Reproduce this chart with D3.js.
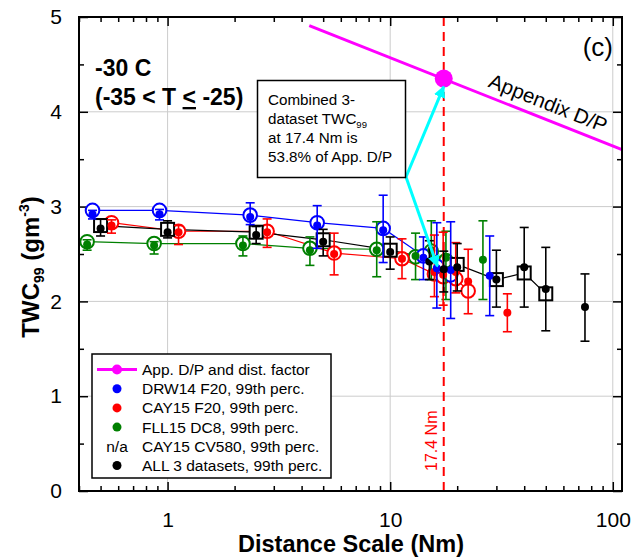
<!DOCTYPE html>
<html lang="en">
  <head>
    <meta charset="UTF-8">
    <title>TWC99 vs distance scale</title>
    <style>
      body { margin: 0; background: #fff; }
      svg { font-family: "Liberation Sans", Arial, sans-serif; }
    </style>
    <script src="https://d3js.org/d3.v7.min.js"></script>
  </head>
  <body>
    <script>
      // DRW14 F20 (blue)
      var drwDist = [0.46, 0.92, 2.35, 4.7, 9.3, 14.1, 16.2, 18.7, 28];
      var drwOpen = [2.96, 2.96, 2.91, 2.83, 2.77, 2.48, 2.37, 2.28, null];
      var drwDot  = [2.92, 2.92, 2.89, 2.80, 2.75, 2.46, 2.35, 2.33, 2.27];
      var drwLo   = [2.87, 2.86, 2.81, 2.56, 2.41, 2.23, 1.93, 1.82, 1.85];
      var drwHi   = [2.96, 2.97, 3.04, 3.01, 3.12, 2.68, 2.83, 2.84, 2.69];

      // CAY15 F20 (red)
      var cayDist = [0.56, 1.12, 2.8, 5.6, 11.3, 15.8, 17.3, 19.7, 22.4, 33.6];
      var cayOpen = [2.83, 2.74, 2.74, 2.51, 2.45, 2.29, 2.26, 2.24, 2.11, null];
      var cayDot  = [2.80, 2.73, 2.73, 2.50, 2.45, 2.31, 2.28, 2.31, 2.21, 1.88];
      var cayLo   = [2.72, 2.60, 2.57, 2.28, 2.24, 2.05, 1.96, 2.09, 1.87, 1.68];
      var cayHi   = [2.86, 2.80, 2.87, 2.72, 2.66, 2.70, 2.73, 2.62, 2.55, 2.08];

      // FLL15 DC8 (green)
      var fllDist = [0.435, 0.87, 2.18, 4.36, 8.7, 13.0, 15.3, 17.8, 26.1];
      var fllOpen = [2.63, 2.61, 2.61, 2.56, 2.55, 2.47, 2.53, 2.43, null];
      var fllDot  = [2.60, 2.59, 2.59, 2.54, 2.54, 2.48, 2.54, 2.46, 2.44];
      var fllLo   = [2.54, 2.50, 2.48, 2.38, 2.26, 2.23, 2.23, 2.02, 2.02];
      var fllHi   = [2.65, 2.63, 2.69, 2.68, 2.84, 2.72, 2.85, 2.74, 2.85];

      // ALL 3 datasets (black)
      var allDist = [0.5, 1, 2.5, 5, 10, 15, 17.4, 20, 30, 40, 50, 75];
      var allOpen = [2.80, 2.76, 2.73, 2.65, 2.54, null, null, 2.39, 2.23, 2.30, 2.08, null];
      var allDot  = [2.77, 2.73, 2.70, 2.63, 2.52, 2.42, 2.34, 2.36, 2.23, 2.36, 2.13, 1.94];
      var allLo   = [2.69, 2.67, 2.61, 2.48, 2.34, 2.23, 2.10, 2.11, 1.94, 1.94, 1.69, 1.58];
      var allHi   = [2.87, 2.85, 2.79, 2.76, 2.68, 2.64, 2.53, 2.61, 2.54, 2.78, 2.57, 2.29];

      // Appendix D/P line and the 17.4 Nm point
      var apDist = [4.33, 110];
      var apTwc = [4.91, 3.6];
      var refDist = 17.4;
      var refTwc = 4.35;

      var xTicks = [1, 10, 100];
      var yTicks = [0, 1, 2, 3, 4, 5];
      var yMinor = [0.5, 1.5, 2.5, 3.5, 4.5];

      var legendLabels = ["App. D/P and dist. factor", "DRW14 F20, 99th perc.",
        "CAY15 F20, 99th perc.", "FLL15 DC8, 99th perc.",
        "CAY15 CV580, 99th perc.", "ALL 3 datasets, 99th perc."];

      var W = 634, H = 560;
      var pL = 79, pR = 622, pT = 17, pB = 491;

      var x = d3.scaleLog().domain([0.4, 110]).range([pL, pR]);
      var y = d3.scaleLinear().domain([0, 5]).range([pB, pT]);

      var svg = d3.select("body").append("svg").attr("width", W).attr("height", H);

      // grid
      svg.append("g").selectAll("line").data(xTicks).join("line")
        .attr("x1", d => x(d)).attr("x2", d => x(d))
        .attr("y1", pT).attr("y2", pB)
        .attr("stroke", "#cccccc").attr("stroke-width", 1);
      svg.append("g").selectAll("line").data([1, 2, 3, 4]).join("line")
        .attr("x1", pL).attr("x2", pR)
        .attr("y1", d => y(d)).attr("y2", d => y(d))
        .attr("stroke", "#cccccc").attr("stroke-width", 1);

      // axes, ticks pointing inward
      var xMinor = x.ticks().filter(d => xTicks.indexOf(d) < 0);
      function styleAxis(g) {
        g.select(".domain").remove();
        g.selectAll(".tick line").attr("stroke-width", 1.5);
        g.selectAll("text").style("font-size", "21px").attr("fill", "#000");
      }
      svg.append("g").attr("transform", "translate(0," + pB + ")")
        .call(d3.axisBottom(x).tickValues(xTicks).tickSizeInner(-9).tickSizeOuter(0)
          .tickPadding(21).tickFormat(d3.format("d"))).call(styleAxis);
      svg.append("g").attr("transform", "translate(0," + pB + ")")
        .call(d3.axisBottom(x).tickValues(xMinor).tickSizeInner(-5).tickSizeOuter(0)
          .tickFormat("")).call(styleAxis);
      svg.append("g").attr("transform", "translate(0," + pT + ")")
        .call(d3.axisTop(x).tickValues(xTicks).tickSizeInner(-9).tickSizeOuter(0)
          .tickFormat("")).call(styleAxis);
      svg.append("g").attr("transform", "translate(0," + pT + ")")
        .call(d3.axisTop(x).tickValues(xMinor).tickSizeInner(-5).tickSizeOuter(0)
          .tickFormat("")).call(styleAxis);
      svg.append("g").attr("transform", "translate(" + pL + ",0)")
        .call(d3.axisLeft(y).tickValues(yTicks).tickSizeInner(-9).tickSizeOuter(0)
          .tickPadding(17).tickFormat(d3.format("d"))).call(styleAxis);
      svg.append("g").attr("transform", "translate(" + pL + ",0)")
        .call(d3.axisLeft(y).tickValues(yMinor).tickSizeInner(-5).tickSizeOuter(0)
          .tickFormat("")).call(styleAxis);
      svg.append("g").attr("transform", "translate(" + pR + ",0)")
        .call(d3.axisRight(y).tickValues(yTicks).tickSizeInner(-9).tickSizeOuter(0)
          .tickFormat("")).call(styleAxis);
      svg.append("g").attr("transform", "translate(" + pR + ",0)")
        .call(d3.axisRight(y).tickValues(yMinor).tickSizeInner(-5).tickSizeOuter(0)
          .tickFormat("")).call(styleAxis);

      // axis titles
      svg.append("text").attr("x", 351).attr("y", 552).attr("text-anchor", "middle")
        .style("font-size", "23.5px").style("font-weight", "bold").text("Distance Scale (Nm)");
      var yt = svg.append("text").attr("transform", "translate(39,267) rotate(-90)")
        .attr("text-anchor", "middle").style("font-size", "24px").style("font-weight", "bold");
      yt.append("tspan").text("TWC");
      yt.append("tspan").attr("dy", 5).style("font-size", "14px").text("99");
      yt.append("tspan").attr("dy", -5).text(" (gm");
      yt.append("tspan").attr("dy", -10).style("font-size", "14px").text("-3");
      yt.append("tspan").attr("dy", 10).text(")");

      // vertical dashed line at 17.4 Nm
      svg.append("line").attr("x1", x(refDist)).attr("x2", x(refDist))
        .attr("y1", pT).attr("y2", pB)
        .attr("stroke", "#ff0000").attr("stroke-width", 2).attr("stroke-dasharray", "9,6");
      svg.append("text").attr("transform", "translate(" + (x(refDist) - 7) + ",471) rotate(-90)")
        .attr("fill", "#ff0000").style("font-size", "16px").text("17.4 Nm");

      // series
      var series = [
        { color: "#008000", shape: "circle", dist: fllDist, open: fllOpen, dot: fllDot, lo: fllLo, hi: fllHi },
        { color: "#ff0000", shape: "circle", dist: cayDist, open: cayOpen, dot: cayDot, lo: cayLo, hi: cayHi },
        { color: "#0000ff", shape: "circle", dist: drwDist, open: drwOpen, dot: drwDot, lo: drwLo, hi: drwHi },
        { color: "#000000", shape: "square", dist: allDist, open: allOpen, dot: allDot, lo: allLo, hi: allHi }
      ];
      var line = d3.line().x(d => x(d[0])).y(d => y(d[1]));

      series.forEach(function (s) {
        var pts = s.dist.map((d, i) => [d, s.open[i]]).filter(p => p[1] != null);
        svg.append("path").datum(pts).attr("d", line)
          .attr("fill", "none").attr("stroke", s.color).attr("stroke-width", 1.2);
      });
      series.forEach(function (s) {
        var pts = s.dist.map((d, i) => [d, s.open[i]]).filter(p => p[1] != null);
        if (s.shape === "circle") {
          svg.append("g").selectAll("circle").data(pts).join("circle")
            .attr("cx", d => x(d[0])).attr("cy", d => y(d[1])).attr("r", 6.8)
            .attr("fill", "#fff").attr("stroke", s.color).attr("stroke-width", 2);
        } else {
          svg.append("g").selectAll("rect").data(pts).join("rect")
            .attr("x", d => x(d[0]) - 6.5).attr("y", d => y(d[1]) - 6.5)
            .attr("width", 13).attr("height", 13)
            .attr("fill", "#fff").attr("stroke", s.color).attr("stroke-width", 2);
        }
      });
      series.forEach(function (s) {
        var idx = d3.range(s.dist.length);
        var g = svg.append("g").attr("stroke", s.color).attr("stroke-width", 1.6);
        g.selectAll(".v").data(idx).join("line")
          .attr("x1", i => x(s.dist[i])).attr("x2", i => x(s.dist[i]))
          .attr("y1", i => y(s.lo[i])).attr("y2", i => y(s.hi[i]));
        g.selectAll(".lo").data(idx).join("line")
          .attr("x1", i => x(s.dist[i]) - 4.5).attr("x2", i => x(s.dist[i]) + 4.5)
          .attr("y1", i => y(s.lo[i])).attr("y2", i => y(s.lo[i]));
        g.selectAll(".hi").data(idx).join("line")
          .attr("x1", i => x(s.dist[i]) - 4.5).attr("x2", i => x(s.dist[i]) + 4.5)
          .attr("y1", i => y(s.hi[i])).attr("y2", i => y(s.hi[i]));
        svg.append("g").selectAll("circle").data(idx).join("circle")
          .attr("cx", i => x(s.dist[i])).attr("cy", i => y(s.dot[i])).attr("r", 4)
          .attr("fill", s.color);
      });

      // Appendix D/P line
      svg.append("path").datum(apDist.map((d, i) => [d, apTwc[i]])).attr("d", line)
        .attr("fill", "none").attr("stroke", "#ff00ff").attr("stroke-width", 3);
      svg.append("circle").attr("cx", x(refDist)).attr("cy", y(refTwc)).attr("r", 9)
        .attr("fill", "#ff00ff");
      var ang = Math.atan2(y(apTwc[1]) - y(apTwc[0]), x(apDist[1]) - x(apDist[0])) * 180 / Math.PI;
      var tx = 484, ty = y(apTwc[0]) + (tx - x(apDist[0])) * Math.tan(ang * Math.PI / 180);
      svg.append("text").attr("transform", "translate(" + tx + "," + ty + ") rotate(" + ang + ") translate(0,-9)")
        .style("font-size", "20.5px").text("Appendix D/P");

      svg.append("text").attr("x", 613).attr("y", 56).attr("text-anchor", "end")
        .style("font-size", "26px").text("(c)");

      // temperature label
      svg.append("text").attr("x", 95).attr("y", 76).style("font-size", "23px")
        .style("font-weight", "bold").text("-30 C");
      var tl = svg.append("text").attr("x", 95).attr("y", 105).style("font-size", "23px")
        .style("font-weight", "bold");
      tl.append("tspan").text("(-35 < T ");
      tl.append("tspan").style("text-decoration", "underline").text("<");
      tl.append("tspan").text(" -25)");

      // cyan arrows
      var defs = svg.append("defs");
      defs.append("marker").attr("id", "ah").attr("viewBox", "0 0 10 10")
        .attr("refX", 9).attr("refY", 5).attr("markerWidth", 4).attr("markerHeight", 4)
        .attr("orient", "auto").append("path").attr("d", "M0,0L10,5L0,10z").attr("fill", "#00ffff");
      var bx = 406, by = 177;
      svg.append("line").attr("x1", bx).attr("y1", by)
        .attr("x2", x(refDist)).attr("y2", y(refTwc) + 8)
        .attr("stroke", "#00ffff").attr("stroke-width", 3).attr("marker-end", "url(#ah)");
      svg.append("line").attr("x1", bx).attr("y1", by)
        .attr("x2", x(16.3)).attr("y2", y(2.37))
        .attr("stroke", "#00ffff").attr("stroke-width", 3).attr("marker-end", "url(#ah)");

      // annotation box
      svg.append("rect").attr("x", 257.5).attr("y", 80.5).attr("width", 148).attr("height", 97)
        .attr("fill", "#fff").attr("stroke", "#000").attr("stroke-width", 1.5);
      var ann = svg.append("text").attr("x", 268).attr("y", 105).style("font-size", "15.2px");
      ann.append("tspan").text("Combined 3-");
      ann.append("tspan").attr("x", 268).attr("dy", 19).text("dataset TWC");
      ann.append("tspan").attr("dy", 4).style("font-size", "9.5px").text("99");
      ann.append("tspan").attr("x", 268).attr("dy", 15).text("at 17.4 Nm is");
      ann.append("tspan").attr("x", 268).attr("dy", 19).text("53.8% of App. D/P");

      // legend
      svg.append("rect").attr("x", 92).attr("y", 354).attr("width", 239).attr("height", 124)
        .attr("fill", "#fff").attr("stroke", "#000").attr("stroke-width", 1.5);
      var legColors = ["#ff00ff", "#0000ff", "#ff0000", "#008000", null, "#000000"];
      var lg = svg.append("g");
      legendLabels.forEach(function (lab, i) {
        var ry = 369.5 + i * 19.2;
        if (i === 0) {
          lg.append("line").attr("x1", 97).attr("x2", 137).attr("y1", ry).attr("y2", ry)
            .attr("stroke", "#ff00ff").attr("stroke-width", 3);
          lg.append("circle").attr("cx", 117).attr("cy", ry).attr("r", 5).attr("fill", "#ff00ff");
        } else if (legColors[i]) {
          lg.append("circle").attr("cx", 117).attr("cy", ry).attr("r", 4.5).attr("fill", legColors[i]);
        } else {
          lg.append("text").attr("x", 117).attr("y", ry + 5.5).attr("text-anchor", "middle")
            .style("font-size", "15.5px").text("n/a");
        }
        lg.append("text").attr("x", 142).attr("y", ry + 5.5).style("font-size", "15.5px").text(lab);
      });

      // frame
      svg.append("rect").attr("x", pL).attr("y", pT)
        .attr("width", pR - pL).attr("height", pB - pT)
        .attr("fill", "none").attr("stroke", "#000").attr("stroke-width", 2);
    </script>
  </body>
</html>
